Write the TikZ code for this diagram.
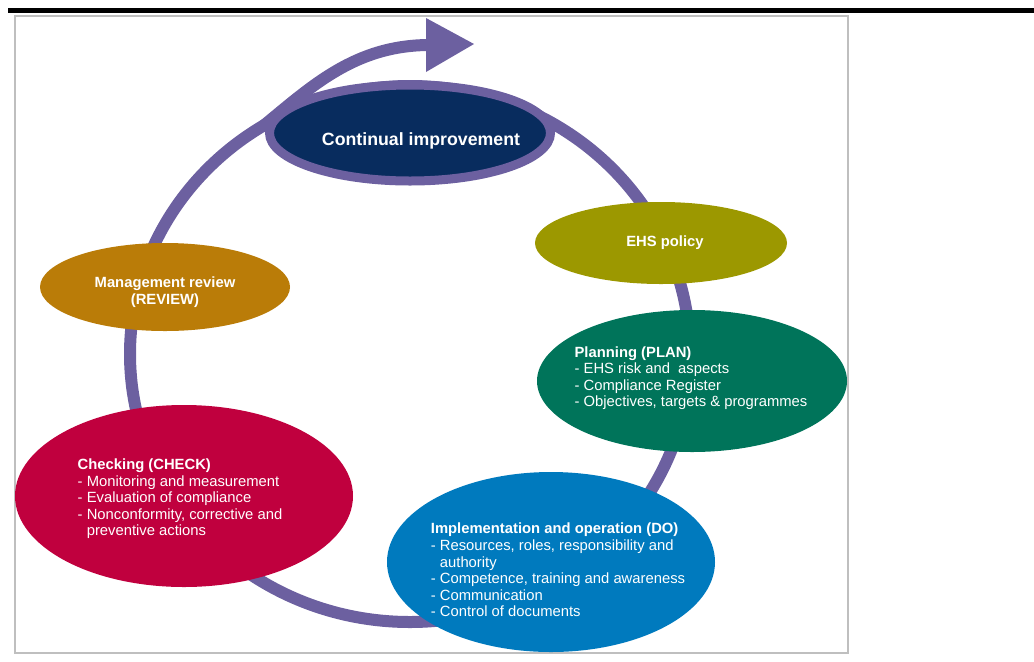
\documentclass[tikz,border=0pt]{standalone}
\usepackage{fontspec}
\setmainfont{Liberation Sans}
\usetikzlibrary{shapes.geometric}

\definecolor{ringpurple}{RGB}{108,96,160}
\definecolor{improvenavy}{RGB}{8,44,94}
\definecolor{policyolive}{RGB}{156,152,0}
\definecolor{plangreen}{RGB}{0,116,90}
\definecolor{doblue}{RGB}{0,122,190}
\definecolor{checkred}{RGB}{192,0,62}
\definecolor{revieworange}{RGB}{186,124,8}

\tikzset{
  phase/.style={ellipse, inner sep=0pt},
  phasetext/.style={text=white, inner sep=0pt, align=left, font=\fontsize{11.1}{12.4}\selectfont},
  phasetitle/.style={phasetext, align=center, font=\bfseries\fontsize{11.1}{12.4}\selectfont}
}

\begin{document}
\begin{tikzpicture}[x=0.75pt,y=0.75pt,yscale=-1,xscale=1]

\useasboundingbox (0,0) rectangle (1034,661);
\fill (8,7.5) rectangle (1034,12.5);
\draw [black!25, line width=1.2pt] (15,16) rectangle (848,653);

\draw [ringpurple, line width=9pt] (410,354) ellipse [x radius=280, y radius=268];
\draw [ringpurple, line width=9pt] (262,127) .. controls (312,86) and (355,45) .. (430,45);
\fill [ringpurple] (426,18) -- (474,44) -- (426,72) -- cycle;

\node [phase, fill=improvenavy, draw=ringpurple, line width=6.75pt, minimum width=210.75pt, minimum height=72pt] (improve) at (410,133) {};
\node [phasetitle, font=\bfseries\fontsize{13.3}{15}\selectfont] (improve-txt) at (421,141) {Continual improvement};

\node [phase, fill=policyolive, minimum width=189pt, minimum height=61.5pt] (policy) at (661,243) {};
\node [phasetitle] (policy-txt) at (665,243) {EHS policy};

\node [phase, fill=plangreen, minimum width=232.5pt, minimum height=106.5pt] (plan) at (692,381) {};
\node [phasetext] (plan-txt) at (691,378) {\textbf{Planning (PLAN)}\\
- EHS risk and\ \ aspects\\
- Compliance Register\\
- Objectives, targets \& programmes};

\node [phase, fill=doblue, minimum width=246pt, minimum height=135pt] (do) at (551,562) {};
\node [phasetext] (do-txt) at (558,570) {\textbf{Implementation and operation (DO)}\\
- Resources, roles, responsibility and\\
\phantom{- }authority\\
- Competence, training and awareness\\
- Communication\\
- Control of documents};

\node [phase, fill=checkred, minimum width=253.5pt, minimum height=136.5pt] (check) at (184,496) {};
\node [phasetext] (check-txt) at (180,499) {\textbf{Checking (CHECK)}\\
- Monitoring and measurement\\
- Evaluation of compliance\\
- Nonconformity, corrective and\\
\phantom{- }preventive actions};

\node [phase, fill=revieworange, minimum width=187.5pt, minimum height=66pt] (review) at (165,287) {};
\node [phasetitle] (review-txt) at (165,292) {Management review\\(REVIEW)};

\end{tikzpicture}
\end{document}
